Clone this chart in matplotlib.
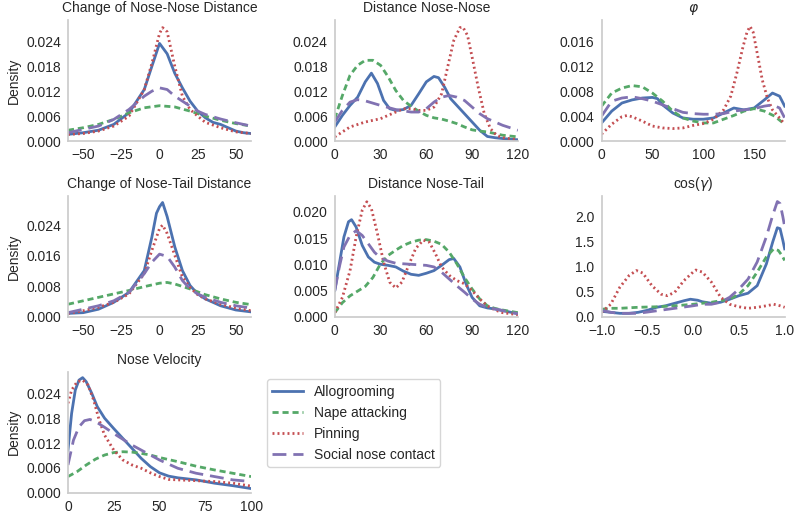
import matplotlib
matplotlib.use("Agg")
import matplotlib.pyplot as plt

plt.rcParams['font.family'] = ['Liberation Sans', 'DejaVu Sans']
plt.rcParams['font.size'] = 10
plt.rcParams['text.color'] = '.15'
plt.rcParams['axes.labelcolor'] = '.15'
plt.rcParams['xtick.color'] = '.15'
plt.rcParams['ytick.color'] = '.15'
plt.rcParams['mathtext.fontset'] = 'dejavusans'

behaviours = ['Allogrooming', 'Nape attacking', 'Pinning', 'Social nose contact']

# --- Change of Nose-Nose Distance ---
nnc_x_allo = [-60, -50, -40, -30, -20, -10, -5, 0, 5, 10, 15, 20, 25, 30, 35, 40, 45, 50, 55, 60]
nnc_allo = [0.0016, 0.002, 0.0026, 0.004, 0.0068, 0.0124, 0.018, 0.0235, 0.021, 0.0163, 0.0128,
            0.0096, 0.0072, 0.0056, 0.0045, 0.004, 0.0032, 0.0024, 0.002, 0.0018]
nnc_x_nape = [-60, -50, -40, -30, -20, -10, 0, 10, 20, 30, 40, 50, 60]
nnc_nape = [0.0026, 0.0032, 0.004, 0.0052, 0.0068, 0.008, 0.0085, 0.0082, 0.0072, 0.006, 0.005,
            0.0042, 0.0036]
nnc_x_pin = [-60, -50, -40, -30, -20, -10, -5, 0, 2, 5, 10, 15, 20, 25, 30, 40, 50, 60]
nnc_pin = [0.0016, 0.0018, 0.0024, 0.0036, 0.006, 0.0124, 0.0187, 0.0259, 0.0273, 0.0263, 0.018,
           0.0108, 0.0076, 0.006, 0.0045, 0.0032, 0.0022, 0.0018]
nnc_x_soc = [-60, -50, -40, -30, -20, -10, -5, 0, 5, 10, 20, 25, 30, 40, 50, 60]
nnc_soc = [0.002, 0.0028, 0.0036, 0.0052, 0.0076, 0.0108, 0.012, 0.0128, 0.0124, 0.0108, 0.0084,
           0.0072, 0.0064, 0.0053, 0.0044, 0.0036]

# --- Distance Nose-Nose ---
nn_x_allo = [0, 5, 10, 15, 20, 24, 28, 32, 36, 40, 45, 50, 55, 60, 65, 68, 72, 76, 80, 85, 90, 95,
             100, 105, 110, 120]
nn_allo = [0.0034, 0.0062, 0.0086, 0.0106, 0.0143, 0.0164, 0.0139, 0.0098, 0.0078, 0.0074, 0.0076,
           0.0086, 0.0114, 0.0143, 0.0156, 0.0153, 0.013, 0.0102, 0.0086, 0.0066, 0.0046, 0.0026,
           0.0011, 0.0008, 0.0006, 0.0003]
nn_x_nape = [0, 5, 10, 15, 20, 25, 30, 35, 40, 45, 50, 55, 60, 65, 70, 75, 80, 85, 90, 95, 100,
             110, 120]
nn_nape = [0.0054, 0.011, 0.0159, 0.0183, 0.0195, 0.0195, 0.0183, 0.0155, 0.0122, 0.0098, 0.0084,
           0.0072, 0.0062, 0.0056, 0.0053, 0.0048, 0.0042, 0.0034, 0.0027, 0.0024, 0.0022, 0.0014,
           0.001]
nn_x_pin = [0, 5, 10, 20, 30, 40, 45, 50, 55, 60, 65, 70, 74, 78, 82, 84, 87, 90, 94, 98, 102,
            106, 110, 120]
nn_pin = [0.001, 0.0022, 0.0034, 0.0046, 0.0054, 0.007, 0.0078, 0.0078, 0.0074, 0.0074, 0.0082,
          0.0114, 0.0179, 0.0243, 0.0274, 0.0275, 0.0255, 0.0203, 0.013, 0.0066, 0.003, 0.0014,
          0.0008, 0.0003]
nn_x_soc = [0, 5, 10, 15, 20, 30, 40, 50, 55, 60, 65, 70, 75, 80, 85, 90, 95, 100, 105, 110, 115,
            120]
nn_soc = [0.0046, 0.0074, 0.0094, 0.01, 0.0097, 0.0086, 0.0076, 0.007, 0.007, 0.0078, 0.0094,
          0.0106, 0.011, 0.0106, 0.0098, 0.0082, 0.0066, 0.0054, 0.0046, 0.0038, 0.0032, 0.0026]

# --- phi ---
phi_x_allo = [0, 10, 20, 30, 40, 50, 55, 60, 70, 80, 90, 100, 110, 120, 130, 140, 150, 160, 168,
              175, 180]
phi_allo = [0.0029, 0.0048, 0.0061, 0.0066, 0.0069, 0.007, 0.0068, 0.0058, 0.0045, 0.0037, 0.0035,
            0.0035, 0.0037, 0.0045, 0.0053, 0.005, 0.0053, 0.0066, 0.0077, 0.0072, 0.0056]
phi_x_nape = [0, 10, 20, 30, 40, 50, 60, 70, 80, 90, 100, 110, 120, 130, 140, 150, 160, 170, 180]
phi_nape = [0.0056, 0.0077, 0.0085, 0.0089, 0.0087, 0.0077, 0.0064, 0.0048, 0.0037, 0.0032,
            0.0029, 0.0029, 0.0035, 0.0041, 0.0048, 0.0052, 0.0048, 0.004, 0.0027]
phi_x_pin = [0, 10, 20, 25, 30, 40, 50, 60, 70, 80, 90, 100, 110, 120, 127, 133, 139, 143, 146,
             149, 153, 158, 163, 168, 175, 180]
phi_pin = [0.0011, 0.0027, 0.0039, 0.0041, 0.0039, 0.0032, 0.0024, 0.0021, 0.002, 0.0021, 0.0025,
           0.0028, 0.0035, 0.005, 0.0072, 0.0109, 0.0151, 0.0175, 0.0184, 0.0175, 0.0141, 0.0098,
           0.0069, 0.005, 0.0037, 0.0027]
phi_x_soc = [0, 10, 20, 30, 40, 50, 60, 70, 80, 90, 100, 110, 120, 130, 140, 150, 160, 168, 175,
             180]
phi_soc = [0.004, 0.0064, 0.0069, 0.0071, 0.0068, 0.0064, 0.0058, 0.0052, 0.0046, 0.0044, 0.0043,
           0.0043, 0.0044, 0.0048, 0.005, 0.0052, 0.0056, 0.0058, 0.0053, 0.0037]

# --- Change of Nose-Tail Distance ---
ntc_x_allo = [-60, -50, -40, -30, -20, -10, -5, -2, 0, 2, 5, 10, 15, 20, 25, 30, 40, 50, 60]
ntc_allo = [0.0009, 0.0011, 0.002, 0.0038, 0.0064, 0.0121, 0.0209, 0.0271, 0.0288, 0.0299, 0.0262,
            0.0183, 0.0121, 0.0082, 0.006, 0.0047, 0.0029, 0.0018, 0.0013]
ntc_x_nape = [-60, -50, -40, -30, -20, -10, 0, 5, 10, 20, 30, 40, 50, 60]
ntc_nape = [0.0033, 0.0042, 0.0051, 0.006, 0.0069, 0.0079, 0.0088, 0.009, 0.0086, 0.0073, 0.0058,
            0.0047, 0.0038, 0.0032]
ntc_x_pin = [-60, -50, -40, -30, -20, -10, -5, 0, 2, 5, 10, 15, 20, 25, 30, 40, 50, 60]
ntc_pin = [0.0009, 0.0016, 0.0025, 0.0038, 0.006, 0.0113, 0.0174, 0.0231, 0.024, 0.0218, 0.0161,
           0.0104, 0.0077, 0.0058, 0.0047, 0.0033, 0.0023, 0.0016]
ntc_x_soc = [-60, -50, -40, -30, -20, -10, -5, 0, 5, 10, 15, 20, 25, 30, 40, 50, 60]
ntc_soc = [0.0011, 0.002, 0.0029, 0.0042, 0.0064, 0.0113, 0.0143, 0.0164, 0.0158, 0.013, 0.0095,
           0.0073, 0.006, 0.0051, 0.0038, 0.0029, 0.0023]

# --- Distance Nose-Tail ---
nt_x_allo = [0, 3, 6, 9, 11, 14, 18, 22, 26, 30, 35, 40, 45, 50, 55, 60, 65, 70, 75, 78, 82, 86,
             90, 95, 100, 105, 110, 120]
nt_allo = [0.005, 0.0101, 0.0152, 0.0181, 0.0185, 0.0171, 0.0136, 0.0114, 0.0104, 0.01, 0.0098,
           0.0095, 0.0087, 0.0081, 0.0079, 0.0083, 0.0088, 0.0098, 0.0109, 0.0111, 0.0095, 0.0063,
           0.0037, 0.0021, 0.0017, 0.0015, 0.0012, 0.0006]
nt_x_nape = [0, 5, 10, 15, 20, 25, 30, 35, 40, 45, 50, 55, 60, 65, 70, 75, 80, 85, 90, 95, 100,
             105, 110, 120]
nt_nape = [0.0008, 0.0027, 0.004, 0.0049, 0.0058, 0.0075, 0.0101, 0.0117, 0.0127, 0.0136, 0.0142,
           0.0146, 0.0147, 0.0144, 0.0138, 0.0123, 0.0101, 0.0075, 0.0053, 0.0034, 0.0021, 0.0016,
           0.0013, 0.0008]
nt_x_pin = [0, 5, 10, 14, 18, 21, 24, 28, 32, 36, 40, 44, 48, 53, 58, 62, 66, 70, 75, 80, 85, 90,
            95, 100, 105, 110, 120]
nt_pin = [0.0008, 0.0037, 0.0088, 0.0152, 0.0203, 0.0219, 0.0206, 0.0158, 0.0104, 0.0066, 0.0055,
          0.0066, 0.0095, 0.013, 0.0146, 0.0142, 0.012, 0.0095, 0.0079, 0.0069, 0.0063, 0.005,
          0.0034, 0.0021, 0.0013, 0.0008, 0.0004]
nt_x_soc = [0, 3, 6, 10, 14, 18, 22, 26, 30, 35, 40, 50, 60, 65, 70, 75, 80, 85, 90, 95, 100, 110,
            120]
nt_soc = [0.005, 0.0095, 0.0133, 0.0155, 0.0164, 0.0155, 0.0139, 0.0123, 0.0112, 0.0106, 0.0102,
          0.01, 0.0098, 0.0095, 0.0085, 0.0072, 0.0059, 0.0047, 0.0034, 0.0024, 0.0018, 0.0012,
          0.0006]

# --- cos(gamma) ---
cg_x_allo = [-1.0, -0.9, -0.8, -0.7, -0.6, -0.5, -0.4, -0.3, -0.2, -0.1, -0.03, 0.05, 0.1, 0.2,
             0.3, 0.4, 0.5, 0.6, 0.7, 0.8, 0.87, 0.92, 0.95, 0.98, 1.0]
cg_allo = [0.11, 0.09, 0.07, 0.07, 0.09, 0.13, 0.19, 0.22, 0.27, 0.32, 0.35, 0.33, 0.30, 0.27,
           0.29, 0.35, 0.42, 0.47, 0.62, 1.05, 1.49, 1.77, 1.75, 1.52, 1.35]
cg_x_nape = [-1.0, -0.9, -0.8, -0.6, -0.4, -0.2, 0.0, 0.2, 0.4, 0.5, 0.6, 0.7, 0.8, 0.88, 0.93,
             0.97, 1.0]
cg_nape = [0.15, 0.17, 0.17, 0.19, 0.2, 0.22, 0.25, 0.29, 0.35, 0.45, 0.62, 0.89, 1.19, 1.35, 1.32,
           1.22, 1.12]
cg_x_pin = [-1.0, -0.9, -0.8, -0.7, -0.62, -0.55, -0.45, -0.35, -0.28, -0.2, -0.1, 0.0, 0.03, 0.1,
            0.2, 0.3, 0.4, 0.5, 0.6, 0.7, 0.8, 0.88, 0.95, 1.0]
cg_pin = [0.09, 0.25, 0.59, 0.82, 0.92, 0.87, 0.62, 0.45, 0.42, 0.49, 0.72, 0.89, 0.93, 0.89, 0.69,
          0.39, 0.25, 0.2, 0.17, 0.19, 0.22, 0.25, 0.22, 0.19]
cg_x_soc = [-1.0, -0.9, -0.8, -0.6, -0.4, -0.2, 0.0, 0.1, 0.2, 0.3, 0.4, 0.5, 0.6, 0.7, 0.8, 0.87,
            0.92, 0.95, 0.98, 1.0]
cg_soc = [0.13, 0.09, 0.07, 0.07, 0.12, 0.17, 0.22, 0.25, 0.25, 0.29, 0.39, 0.55, 0.75, 1.09, 1.59,
          2.02, 2.29, 2.25, 1.99, 1.79]

# --- Nose Velocity ---
vel_x_allo = [0, 2, 4, 6, 8, 10, 13, 16, 20, 25, 30, 35, 40, 45, 50, 55, 60, 70, 80, 90, 100]
vel_allo = [0.0103, 0.0192, 0.0248, 0.0272, 0.0278, 0.0268, 0.024, 0.0208, 0.018, 0.0155, 0.0131,
            0.0107, 0.0083, 0.0063, 0.0048, 0.004, 0.0036, 0.0031, 0.0023, 0.0017, 0.001]
vel_x_nape = [0, 5, 10, 15, 20, 25, 30, 35, 40, 45, 50, 60, 70, 80, 90, 100]
vel_nape = [0.0039, 0.0051, 0.0067, 0.0081, 0.0091, 0.0097, 0.0099, 0.0098, 0.0095, 0.0091, 0.0085,
            0.0075, 0.0064, 0.0055, 0.0047, 0.0039]
vel_x_pin = [0, 2, 5, 8, 11, 14, 17, 20, 25, 30, 35, 40, 45, 50, 55, 60, 70, 80, 90, 100]
vel_pin = [0.0216, 0.0248, 0.0268, 0.0272, 0.026, 0.0224, 0.0176, 0.0139, 0.0103, 0.0079, 0.0067,
           0.0059, 0.0048, 0.0039, 0.0032, 0.0031, 0.0029, 0.0027, 0.0023, 0.0016]
vel_x_soc = [0, 3, 6, 9, 12, 15, 20, 25, 30, 35, 40, 45, 50, 60, 70, 80, 90, 100]
vel_soc = [0.0067, 0.0127, 0.0159, 0.0174, 0.0177, 0.0172, 0.0158, 0.0143, 0.0129, 0.0115, 0.0103,
           0.0091, 0.0079, 0.0059, 0.0047, 0.0039, 0.0031, 0.0027]

colors = ['#4C72B0', '#55A868', '#C44E52', '#8172B2']
styles = ['-', (0, (2.2, 1.4)), (0, (0.7, 1.1)), (0, (5, 2.5))]

panels = [
    ('Change of Nose-Nose Distance',
     [(nnc_x_allo, nnc_allo), (nnc_x_nape, nnc_nape), (nnc_x_pin, nnc_pin), (nnc_x_soc, nnc_soc)],
     (-60, 60), [-50, -25, 0, 25, 50], 0.0291, [0, 0.006, 0.012, 0.018, 0.024], '{:.3f}'),
    ('Distance Nose-Nose',
     [(nn_x_allo, nn_allo), (nn_x_nape, nn_nape), (nn_x_pin, nn_pin), (nn_x_soc, nn_soc)],
     (0, 120), [0, 30, 60, 90, 120], 0.0292, [0, 0.006, 0.012, 0.018, 0.024], '{:.3f}'),
    (r'$\varphi$',
     [(phi_x_allo, phi_allo), (phi_x_nape, phi_nape), (phi_x_pin, phi_pin), (phi_x_soc, phi_soc)],
     (0, 180), [0, 50, 100, 150], 0.0194, [0, 0.004, 0.008, 0.012, 0.016], '{:.3f}'),
    ('Change of Nose-Tail Distance',
     [(ntc_x_allo, ntc_allo), (ntc_x_nape, ntc_nape), (ntc_x_pin, ntc_pin), (ntc_x_soc, ntc_soc)],
     (-60, 60), [-50, -25, 0, 25, 50], 0.0316, [0, 0.008, 0.016, 0.024], '{:.3f}'),
    ('Distance Nose-Tail',
     [(nt_x_allo, nt_allo), (nt_x_nape, nt_nape), (nt_x_pin, nt_pin), (nt_x_soc, nt_soc)],
     (0, 120), [0, 30, 60, 90, 120], 0.023, [0, 0.005, 0.010, 0.015, 0.020], '{:.3f}'),
    (r'cos($\gamma$)',
     [(cg_x_allo, cg_allo), (cg_x_nape, cg_nape), (cg_x_pin, cg_pin), (cg_x_soc, cg_soc)],
     (-1, 1), [-1.0, -0.5, 0.0, 0.5, 1.0], 2.4, [0, 0.5, 1.0, 1.5, 2.0], '{:.1f}'),
    ('Nose Velocity',
     [(vel_x_allo, vel_allo), (vel_x_nape, vel_nape), (vel_x_pin, vel_pin), (vel_x_soc, vel_soc)],
     (0, 100), [0, 25, 50, 75, 100], 0.0292, [0, 0.006, 0.012, 0.018, 0.024], '{:.3f}'),
]

fig, axes = plt.subplots(3, 3, figsize=(7.95, 5.17), dpi=100)
plt.subplots_adjust(left=0.0855, right=0.987, bottom=0.047, top=0.961, wspace=0.457, hspace=0.455)

for i, (title, series, xlim, xticks, ytop, yticks, yfmt) in enumerate(panels):
    ax = axes.flat[i]
    for (xs, ys), c, ls, name in zip(series, colors, styles, behaviours):
        ax.plot(xs, ys, color=c, linestyle=ls, lw=2, label=name)
    ax.set_xlim(*xlim)
    ax.set_ylim(0, ytop)
    ax.set_xticks(xticks)
    if xlim == (-1, 1):
        ax.set_xticklabels(['{:.1f}'.format(t).replace('-', '\u2212') for t in xticks])
    ax.set_yticks(yticks)
    ax.set_yticklabels([yfmt.format(t) for t in yticks])
    ax.set_title(title, fontsize=10, color='.15')
    for s in ['top', 'right']:
        ax.spines[s].set_visible(False)
    for s in ['left', 'bottom']:
        ax.spines[s].set_color('.8')
        ax.spines[s].set_linewidth(1.25)
    ax.tick_params(length=0, labelsize=10, pad=5)
    if i % 3 == 0:
        ax.set_ylabel('Density', fontsize=10)

axes[2, 1].axis('off')
axes[2, 2].axis('off')

handles, labels = axes[0, 0].get_legend_handles_labels()
leg = fig.legend(handles, labels, loc='upper left', bbox_to_anchor=(0.3355, 0.2663),
                 fontsize=10, frameon=True, handlelength=2.2, borderaxespad=0)
leg.get_frame().set_edgecolor('.8')

fig.savefig('out.png', dpi=100)
